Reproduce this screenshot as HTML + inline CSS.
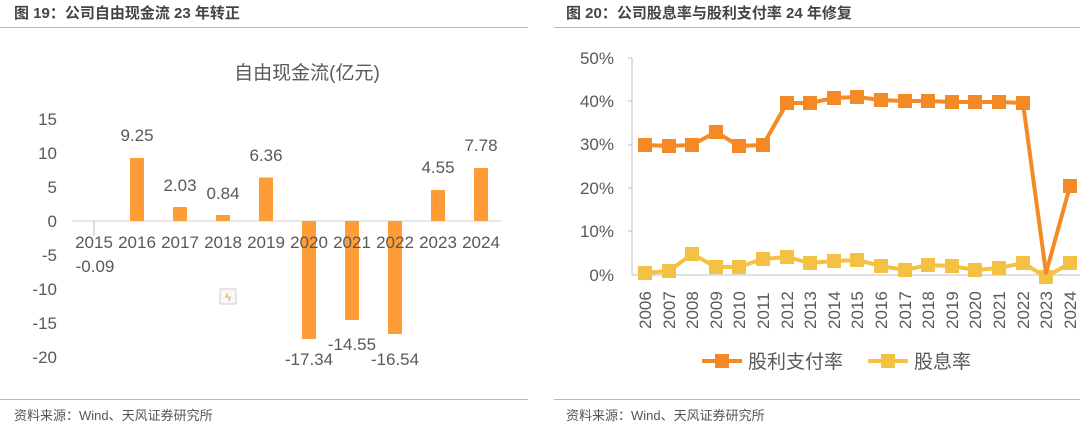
<!DOCTYPE html>
<html><head><meta charset="utf-8"><style>
html,body{margin:0;padding:0;background:#fff;width:1080px;height:428px;overflow:hidden}
svg{display:block;font-family:"Liberation Sans","Noto Sans CJK SC",sans-serif}
</style></head><body>
<svg width="1080" height="428" viewBox="0 0 1080 428" xmlns="http://www.w3.org/2000/svg">
<g font-weight="bold" font-size="15" fill="#444">
<text x="14" y="18">图 19：公司自由现金流 23 年转正</text>
<text x="566" y="18">图 20：公司股息率与股利支付率 24 年修复</text>
</g>
<line x1="0" y1="27.5" x2="528" y2="27.5" stroke="#f4a672" stroke-width="1"/>
<line x1="554" y1="27.5" x2="1080" y2="27.5" stroke="#f4a672" stroke-width="1"/>
<line x1="0" y1="399.5" x2="528" y2="399.5" stroke="#f4a672" stroke-width="1"/>
<line x1="554" y1="399.5" x2="1080" y2="399.5" stroke="#f4a672" stroke-width="1"/>
<g font-size="13" fill="#555">
<text x="14" y="420">资料来源：Wind、天风证券研究所</text>
<text x="566" y="420">资料来源：Wind、天风证券研究所</text>
</g>

<!-- Left chart -->
<text x="307" y="79" font-size="19" fill="#595959" text-anchor="middle">自由现金流(亿元)</text>
<g font-size="17" fill="#595959" text-anchor="end">
<text x="57" y="125">15</text><text x="57" y="159">10</text><text x="57" y="193">5</text>
<text x="57" y="227">0</text><text x="57" y="261">-5</text><text x="57" y="295">-10</text>
<text x="57" y="329">-15</text><text x="57" y="363">-20</text>
</g>
<line x1="72" y1="221" x2="501" y2="221" stroke="#d9d9d9" stroke-width="1.2"/>
<line x1="94" y1="221" x2="94" y2="236" stroke="#bbb" stroke-width="1"/>
<g fill="#ff9c38">
<rect x="130" y="158" width="14" height="63"/>
<rect x="173" y="207" width="14" height="14"/>
<rect x="216" y="215" width="14" height="6"/>
<rect x="259" y="177.5" width="14" height="43.5"/>
<rect x="302" y="221" width="14" height="118"/>
<rect x="345" y="221" width="14" height="99"/>
<rect x="388" y="221" width="14" height="113"/>
<rect x="431" y="190" width="14" height="31"/>
<rect x="474" y="168" width="14" height="53"/>
</g>
<g font-size="17" fill="#595959" text-anchor="middle">
<text x="94" y="248">2015</text><text x="137" y="248">2016</text><text x="180" y="248">2017</text>
<text x="223" y="248">2018</text><text x="266" y="248">2019</text><text x="309" y="248">2020</text>
<text x="352" y="248">2021</text><text x="395" y="248">2022</text><text x="438" y="248">2023</text>
<text x="481" y="248">2024</text>
<text x="95" y="272">-0.09</text>
<text x="137" y="141">9.25</text><text x="180" y="191">2.03</text><text x="223" y="199">0.84</text>
<text x="266" y="161">6.36</text><text x="309" y="365">-17.34</text><text x="352" y="350">-14.55</text>
<text x="395" y="365">-16.54</text><text x="438" y="173">4.55</text><text x="481" y="151">7.78</text>
</g>
<rect x="220" y="289" width="16" height="15" fill="#f7f7f7" stroke="#ccc"/>
<text x="228" y="301" font-size="11" fill="#e8a040" text-anchor="middle">ϟ</text>

<!-- Right chart -->
<g font-size="17" fill="#595959" text-anchor="end">
<text x="614" y="64">50%</text><text x="614" y="107">40%</text><text x="614" y="150">30%</text>
<text x="614" y="194">20%</text><text x="614" y="237">10%</text><text x="614" y="281">0%</text>
</g>
<line x1="632" y1="58" x2="632" y2="275" stroke="#bfbfbf"/>
<line x1="632" y1="275" x2="1080" y2="275" stroke="#bfbfbf"/>
<g stroke="#bfbfbf">
<line x1="628" y1="58" x2="632" y2="58"/><line x1="628" y1="101" x2="632" y2="101"/>
<line x1="628" y1="145" x2="632" y2="145"/><line x1="628" y1="188" x2="632" y2="188"/>
<line x1="628" y1="231" x2="632" y2="231"/>
</g>
<polyline fill="none" stroke="#f5c142" stroke-width="4" stroke-linejoin="round"
points="645,273 669,271 692,254 716,267 739,267 763,259 787,257 810,263 834,261 857,260 881,266 905,270 928,265 952,266 975,270 999,268 1023,263 1046,277 1070,263"/>
<g fill="#f5c142">
<rect x="638" y="266" width="14" height="14"/><rect x="662" y="264" width="14" height="14"/><rect x="685" y="247" width="14" height="14"/><rect x="709" y="260" width="14" height="14"/><rect x="732" y="260" width="14" height="14"/><rect x="756" y="252" width="14" height="14"/><rect x="780" y="250" width="14" height="14"/><rect x="803" y="256" width="14" height="14"/><rect x="827" y="254" width="14" height="14"/><rect x="850" y="253" width="14" height="14"/><rect x="874" y="259" width="14" height="14"/><rect x="898" y="263" width="14" height="14"/><rect x="921" y="258" width="14" height="14"/><rect x="945" y="259" width="14" height="14"/><rect x="968" y="263" width="14" height="14"/><rect x="992" y="261" width="14" height="14"/><rect x="1016" y="256" width="14" height="14"/><rect x="1039" y="270" width="14" height="14"/><rect x="1063" y="256" width="14" height="14"/>
</g>
<polyline fill="none" stroke="#f38a25" stroke-width="4" stroke-linejoin="round"
points="645,145 669,146 692,145 716,132 739,146 763,145 787,103 810,103 834,98 857,97 881,100 905,101 928,101 952,102 975,102 999,102 1023,103 1046,273 1070,186"/>
<g fill="#f38a25">
<rect x="638" y="138" width="14" height="14"/><rect x="662" y="139" width="14" height="14"/><rect x="685" y="138" width="14" height="14"/><rect x="709" y="125" width="14" height="14"/><rect x="732" y="139" width="14" height="14"/><rect x="756" y="138" width="14" height="14"/><rect x="780" y="96" width="14" height="14"/><rect x="803" y="96" width="14" height="14"/><rect x="827" y="91" width="14" height="14"/><rect x="850" y="90" width="14" height="14"/><rect x="874" y="93" width="14" height="14"/><rect x="898" y="94" width="14" height="14"/><rect x="921" y="94" width="14" height="14"/><rect x="945" y="95" width="14" height="14"/><rect x="968" y="95" width="14" height="14"/><rect x="992" y="95" width="14" height="14"/><rect x="1016" y="96" width="14" height="14"/><rect x="1063" y="179" width="14" height="14"/>
</g>
<g font-size="17" fill="#595959">
<text transform="translate(651,329) rotate(-90)">2006</text><text transform="translate(675,329) rotate(-90)">2007</text><text transform="translate(698,329) rotate(-90)">2008</text><text transform="translate(722,329) rotate(-90)">2009</text><text transform="translate(745,329) rotate(-90)">2010</text><text transform="translate(769,329) rotate(-90)">2011</text><text transform="translate(793,329) rotate(-90)">2012</text><text transform="translate(816,329) rotate(-90)">2013</text><text transform="translate(840,329) rotate(-90)">2014</text><text transform="translate(863,329) rotate(-90)">2015</text><text transform="translate(887,329) rotate(-90)">2016</text><text transform="translate(911,329) rotate(-90)">2017</text><text transform="translate(934,329) rotate(-90)">2018</text><text transform="translate(958,329) rotate(-90)">2019</text><text transform="translate(981,329) rotate(-90)">2020</text><text transform="translate(1005,329) rotate(-90)">2021</text><text transform="translate(1029,329) rotate(-90)">2022</text><text transform="translate(1052,329) rotate(-90)">2023</text><text transform="translate(1076,329) rotate(-90)">2024</text>
</g>
<line x1="702" y1="361" x2="742" y2="361" stroke="#f38a25" stroke-width="4"/>
<rect x="715" y="354" width="14" height="14" fill="#f38a25"/>
<text x="748" y="368" font-size="19" fill="#595959">股利支付率</text>
<line x1="868" y1="361" x2="908" y2="361" stroke="#f5c142" stroke-width="4"/>
<rect x="881" y="354" width="14" height="14" fill="#f5c142"/>
<text x="914" y="368" font-size="19" fill="#595959">股息率</text>
</svg>
</body></html>
